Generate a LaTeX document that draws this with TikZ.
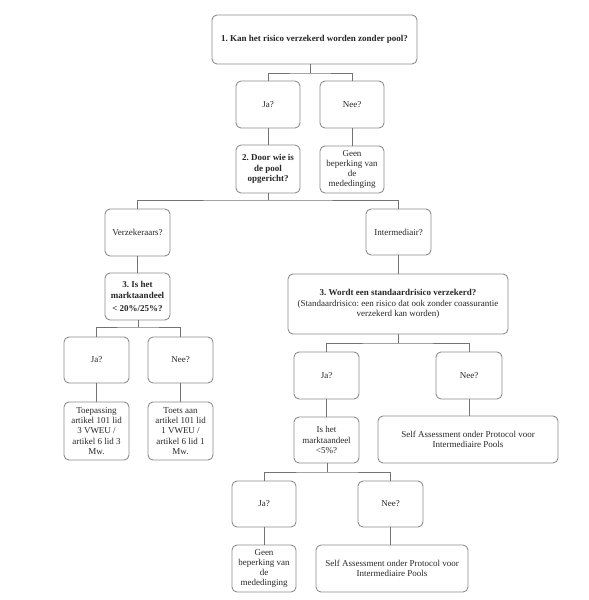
\documentclass[tikz,border=0pt]{standalone}
\usepackage{fontspec}
\setmainfont{Liberation Serif}
\frenchspacing
\begin{document}
\begin{tikzpicture}[x=1pt,y=-1pt,
  box/.style={draw=black!45, line width=0.9pt, rounded corners=5pt, align=center, inner sep=1pt,
    font=\fontsize{9}{10.3}\selectfont\frenchspacing, text=black!85},
  link/.style={draw=black!55, line width=0.9pt}]
\useasboundingbox (0,0) rectangle (589,600);
\node[box, minimum width=205, minimum height=49] (b1) at (314.5,39.5) {\textbf{1. Kan het risico verzekerd worden zonder pool?}};
\node[box, minimum width=64, minimum height=47] (ja1) at (268,104.5) {Ja?};
\node[box, minimum width=64, minimum height=47] (nee1) at (352,104.5) {Nee?};
\node[box, minimum width=64, minimum height=48] (b2) at (268,169) {\textbf{2. Door wie is}\\\textbf{de pool}\\\textbf{opgericht?}};
\node[box, minimum width=64, minimum height=47] (geen1) at (352,169.5) {Geen\\beperking van\\de\\mededinging};
\node[box, minimum width=65, minimum height=47] (verz) at (137.5,232.5) {Verzekeraars?};
\node[box, minimum width=65, minimum height=46] (inter) at (398.5,232) {Intermediair?};
\node[box, minimum width=65, minimum height=47] (b3l) at (137.5,296.5) {\textbf{3. Is het}\\\textbf{marktaandeel}\\[3pt]\textbf{< 20\%/25\%?}};
\node[box, minimum width=220, minimum height=60] (b3r) at (398,304) {\textbf{3. Wordt een standaardrisico verzekerd?}\\(Standaardrisico: een risico dat ook zonder coassurantie\\verzekerd kan worden)};
\node[box, minimum width=65, minimum height=46] (ja3l) at (96.5,360) {Ja?};
\node[box, minimum width=65, minimum height=46] (nee3l) at (180.5,360) {Nee?};
\node[box, minimum width=65, minimum height=58] (toep) at (96.5,431) {Toepassing\\artikel 101 lid\\3 VWEU /\\artikel 6 lid 3\\Mw.};
\node[box, minimum width=65, minimum height=58] (toets) at (180.5,431) {Toets aan\\artikel 101 lid\\1 VWEU /\\artikel 6 lid 1\\Mw.};
\node[box, minimum width=65, minimum height=47] (ja3r) at (326.5,375.5) {Ja?};
\node[box, minimum width=66, minimum height=47] (nee3r) at (469,375.5) {Nee?};
\node[box, minimum width=65, minimum height=46] (ishet) at (326.5,440) {Is het\\marktaandeel\\<5\%?};
\node[box, minimum width=180, minimum height=47] (sa1) at (468,439.5) {Self Assessment onder Protocol voor\\Intermediaire Pools};
\node[box, minimum width=64, minimum height=46] (ja4) at (264,504) {Ja?};
\node[box, minimum width=65, minimum height=46] (nee4) at (390.5,504) {Nee?};
\node[box, minimum width=64, minimum height=47] (geen2) at (264,568.5) {Geen\\beperking van\\de\\mededinging};
\node[box, minimum width=152, minimum height=47] (sa2) at (392,568.5) {Self Assessment onder Protocol voor\\Intermediaire Pools};
\coordinate (s1) at (310,73);
\coordinate (s2) at (268,200);
\coordinate (s3) at (138,327);
\coordinate (s4) at (398,343);
\coordinate (s5) at (327,472);
\draw[link] (b1.south -| s1) -- (s1);
\draw[link] (ja1.north) |- (s1) -| (nee1.north);
\draw[link] (ja1.south) -- (b2.north);
\draw[link] (nee1.south) -- (geen1.north);
\draw[link] (b2.south) -- (s2);
\draw[link] (verz.north) |- (s2) -| (inter.north);
\draw[link] (verz.south) -- (b3l.north);
\draw[link] (inter.south) -- (inter.south |- b3r.north);
\draw[link] (b3l.south -| s3) -- (s3);
\draw[link] (ja3l.north) |- (s3) -| (nee3l.north);
\draw[link] (ja3l.south) -- (toep.north);
\draw[link] (nee3l.south) -- (toets.north);
\draw[link] (b3r.south -| s4) -- (s4);
\draw[link] (ja3r.north) |- (s4) -| (nee3r.north);
\draw[link] (ja3r.south) -- (ishet.north);
\draw[link] (nee3r.south) -- (nee3r.south |- sa1.north);
\draw[link] (ishet.south -| s5) -- (s5);
\draw[link] (ja4.north) |- (s5) -| (nee4.north);
\draw[link] (ja4.south) -- (geen2.north);
\draw[link] (nee4.south) -- (nee4.south |- sa2.north);
\end{tikzpicture}
\end{document}
